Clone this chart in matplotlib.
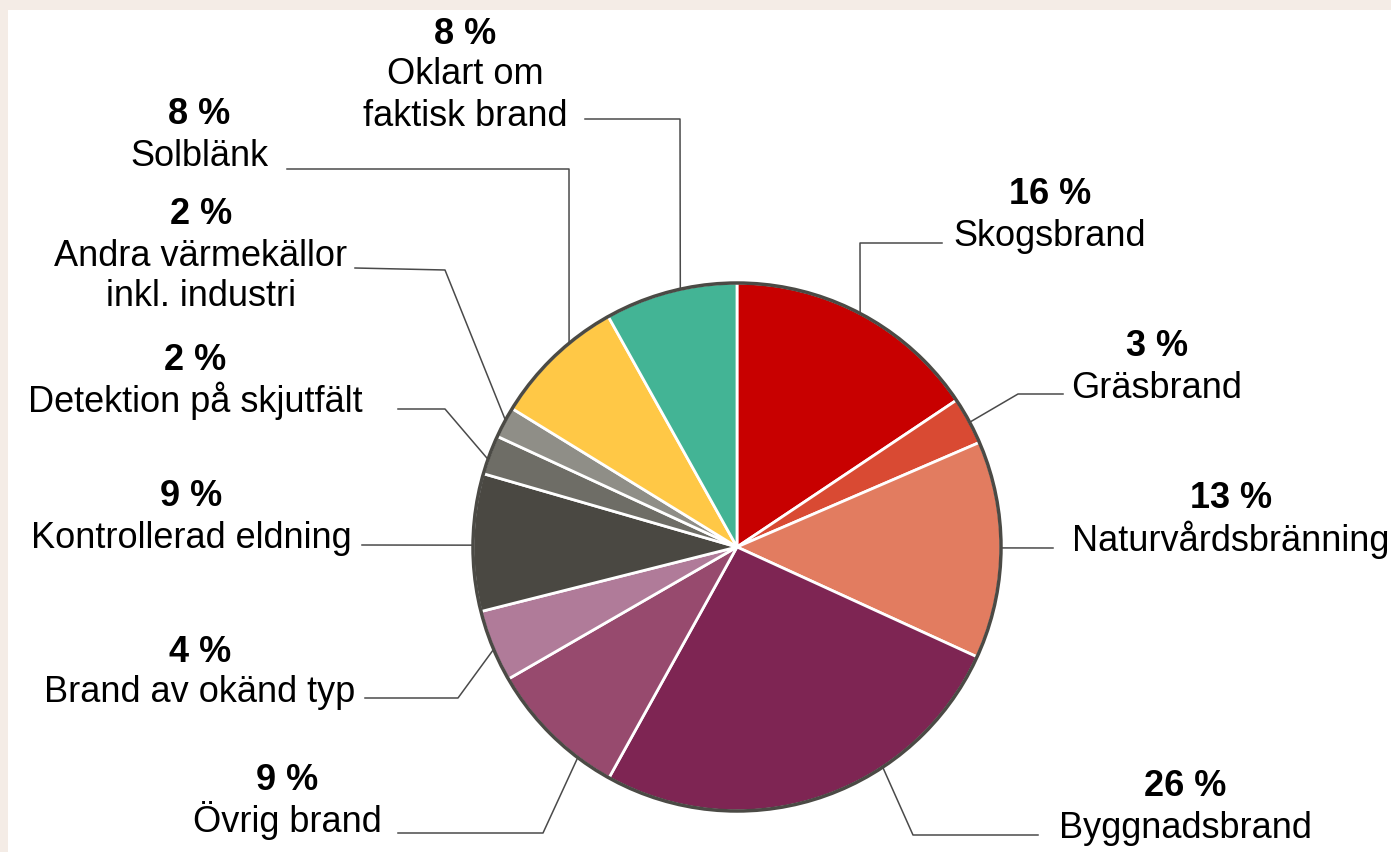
import matplotlib.pyplot as plt
import numpy as np
from matplotlib.patches import Circle, Rectangle

# data (clockwise from 12 o'clock)
categories = [
    "Skogsbrand",
    "Gräsbrand",
    "Naturvårdsbränning",
    "Byggnadsbrand",
    "Övrig brand",
    "Brand av okänd typ",
    "Kontrollerad eldning",
    "Detektion på skjutfält",
    "Andra värmekällor\ninkl. industri",
    "Solblänk",
    "Oklart om\nfaktisk brand",
]
shares = [15.6, 2.9, 13.3, 26.2, 8.6, 4.4, 8.4, 2.4, 1.9, 8.1, 8.1]
pct_labels = ["16 %", "3 %", "13 %", "26 %", "9 %", "4 %", "9 %", "2 %", "2 %", "8 %", "8 %"]
colors = [
    "#c80000", "#d94a33", "#e27c60", "#7e2553", "#974a6e", "#b07b99",
    "#4a4842", "#6e6d66", "#8f8e87", "#ffc846", "#43b495",
]

# layout in pixels (y measured from top)
W, H = 1391, 852
CX, CY, R = 737, 547, 264
text_x = [1050, 1157, 1231, 1185, 287, 200, 191, 195, 201, 199, 465]
pct_y = [195, 347, 499, 787, 780, 652, 497, 360, 215, 115, 34]
anchor_deg = [62.2, 28.2, -0.2, -56.5, 232.9, 202.8, 179.6, 160.6, 151.3, 129.5, 102.4]
elbows = [
    [(860, 243), (942, 243)],
    [(1018, 394), (1063, 394)],
    [(1053, 548)],
    [(913, 835), (1038, 835)],
    [(543, 833), (398, 833)],
    [(458, 698), (365, 698)],
    [(362, 545)],
    [(445, 409), (398, 409)],
    [(445, 270), (355, 268)],
    [(569, 169), (287, 169)],
    [(680, 119), (585, 119)],
]
LINE_STEP = 41


def py(y):
    return H - y


fig = plt.figure(figsize=(W / 100, H / 100), dpi=100)
fig.patch.set_facecolor("#f4ece6")

bg = fig.add_axes([0, 0, 1, 1], zorder=-1)
bg.axis("off")
bg.add_patch(Rectangle((8 / W, 0), 1, (H - 10) / H, transform=fig.transFigure,
                       facecolor="white", edgecolor="none"))

ax = fig.add_axes([0, 0, 1, 1])
ax.patch.set_alpha(0)

ax.pie(
    shares,
    colors=colors,
    startangle=90,
    counterclock=False,
    radius=R,
    center=(CX, py(CY)),
    wedgeprops=dict(edgecolor="white", linewidth=2.0),
)
ax.set_xlim(0, W)
ax.set_ylim(0, H)
ax.set_aspect("equal")
ax.axis("off")
ax.add_patch(Circle((CX, py(CY)), R, fill=False, edgecolor="#4b4a45", linewidth=2.5, zorder=5))

font = dict(family=["Liberation Sans", "DejaVu Sans"], fontsize=26, color="black")
for name, pct, tx, ty, ang, pts in zip(categories, pct_labels, text_x, pct_y, anchor_deg, elbows):
    ax.text(tx, py(ty), pct, ha="center", va="center", fontweight="bold", **font)
    for i, line in enumerate(name.split("\n")):
        ax.text(tx, py(ty + LINE_STEP * (i + 1)), line, ha="center", va="center", **font)
    a = np.deg2rad(ang)
    xs = [CX + R * np.cos(a)] + [p[0] for p in pts]
    ys = [py(CY) + R * np.sin(a)] + [py(p[1]) for p in pts]
    ax.plot(xs, ys, color="#4a4a4a", linewidth=1.1, zorder=4)

fig.savefig("out.png", dpi=100, facecolor=fig.get_facecolor())
